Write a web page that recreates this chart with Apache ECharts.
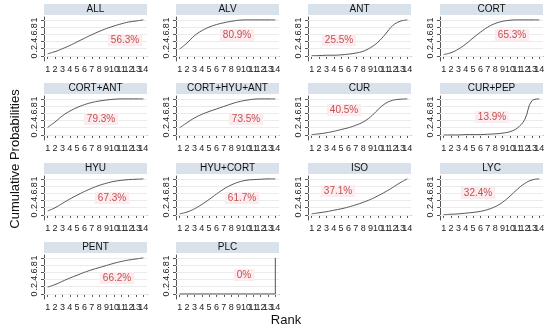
<!DOCTYPE html>
<html>
<head>
<meta charset="utf-8">
<script src="https://cdn.jsdelivr.net/npm/echarts@6/dist/echarts.min.js"></script>
<style>
html,body{margin:0;padding:0;background:#fff;}
#chart{width:550px;height:329px;}
</style>
</head>
<body>
<div id="chart"></div>
<script>
// ---------- data ----------
const panels = ['ALL','ALV','ANT','CORT','CORT+ANT','CORT+HYU+ANT','CUR','CUR+PEP','HYU','HYU+CORT','ISO','LYC','PENT','PLC'];
const ranks = ['1','2','3','4','5','6','7','8','9','10','11','12','13','14'];
const sucraLabels = ['56.3%','80.9%','25.5%','65.3%','79.3%','73.5%','40.5%','13.9%','67.3%','61.7%','37.1%','32.4%','66.2%','0%'];
const yTickValues = [0,0.2,0.4,0.6,0.8,1];
const yTickLabels = ['0','.2','.4','.6','.8','1'];

const cumALL   = [0.06,0.12,0.20,0.29,0.39,0.49,0.59,0.68,0.76,0.83,0.89,0.94,0.97,1];
const cumALV   = [0.19,0.36,0.56,0.70,0.80,0.87,0.92,0.96,0.99,1,1,1,1,1];
const cumANT   = [0.01,0.01,0.02,0.02,0.03,0.05,0.08,0.13,0.23,0.38,0.60,0.84,0.96,1];
const cumCORT  = [0.04,0.09,0.19,0.33,0.50,0.66,0.80,0.90,0.96,0.99,1,1,1,1];
const cumCORTANT = [0.21,0.36,0.53,0.66,0.76,0.84,0.90,0.94,0.97,0.99,1,1,1,1];
const cumCORTHYUANT = [0.20,0.34,0.47,0.57,0.65,0.72,0.79,0.86,0.92,0.96,0.99,1,1,1];
const cumCUR   = [0.01,0.03,0.06,0.10,0.15,0.20,0.27,0.36,0.50,0.70,0.87,0.96,0.99,1];
const cumCURPEP = [0,0,0,0.01,0.01,0.01,0.02,0.03,0.05,0.09,0.19,0.42,0.95,1];
const cumHYU   = [0.11,0.20,0.32,0.44,0.55,0.65,0.74,0.82,0.88,0.93,0.96,0.98,0.99,1];
const cumHYUCORT = [0.03,0.08,0.17,0.29,0.43,0.58,0.72,0.83,0.91,0.96,0.98,0.99,1,1];
const cumISO   = [0.03,0.06,0.09,0.13,0.17,0.22,0.28,0.35,0.43,0.53,0.64,0.76,0.89,1];
const cumLYC   = [0.01,0.02,0.03,0.05,0.07,0.10,0.15,0.23,0.35,0.52,0.71,0.87,0.97,1];
const cumPENT  = [0.19,0.26,0.35,0.44,0.52,0.60,0.67,0.73,0.79,0.85,0.90,0.94,0.97,1];
const cumPLC   = [0,0,0,0,0,0,0,0,0,0,0,0,0,1];

const curves = [cumALL,cumALV,cumANT,cumCORT,cumCORTANT,cumCORTHYUANT,cumCUR,cumCURPEP,cumHYU,cumHYUCORT,cumISO,cumLYC,cumPENT,cumPLC];

// ---------- layout (style) ----------
const FONT = '"Liberation Sans", Arial, sans-serif';
const colLeft = [44,176,308,440];
const rowTop = [17,96,176,255];
const gridW = 103, gridH = 44;
// label centre offsets within each grid, pixels
const labelOffset = [[81,23],[61,18],[31,23],[72,18],[57,23],[70,23],[36,14],[52,21],[68,22],[66,22],[30,15],[38,17],[73,23],[68,20]];

const grids=[], xAxes=[], yAxes=[], series=[], graphics=[];
panels.forEach((name,i)=>{
  const c = i%4, r = Math.floor(i/4);
  const L = colLeft[c], T = rowTop[r];
  grids.push({left:L, top:T, width:gridW, height:gridH, containLabel:false});
  xAxes.push({
    type:'category', gridIndex:i, data:ranks, boundaryGap:true,
    axisLine:{show:true, lineStyle:{color:'#555', width:1}},
    axisTick:{show:true, alignWithLabel:true, length:3, lineStyle:{color:'#555'}},
    axisLabel:{interval:0, fontSize:9, margin:4, color:'#222', fontFamily:FONT},
    splitLine:{show:false}
  });
  yAxes.push({
    type:'value', gridIndex:i, min:-0.14, max:1.08,
    axisLine:{show:true, lineStyle:{color:'#555', width:1}},
    axisTick:{show:true, length:3, customValues:yTickValues, lineStyle:{color:'#555'}},
    axisLabel:{show:true, customValues:yTickValues, rotate:90, fontSize:9, margin:5, color:'#222', fontFamily:FONT,
      formatter:(v)=>{const k=yTickValues.findIndex(t=>Math.abs(t-v)<1e-6); return k>=0?yTickLabels[k]:'';}},
    splitLine:{show:false}
  });
  series.push({
    type:'line', xAxisIndex:i, yAxisIndex:i, data:curves[i],
    smooth: name==='PLC'?false:0.4, step: name==='PLC'?'end':false,
    symbol:'none', lineStyle:{color:'#555', width:1}, z:3,
    markLine:{silent:true, symbol:'none', label:{show:false}, animation:false, z:1,
      lineStyle:{color:'#ebebeb', type:'solid', width:1},
      data: yTickValues.map(v=>({yAxis:v}))}
  });
  // header strip
  graphics.push({type:'rect', shape:{x:L, y:T-13, width:gridW, height:11}, style:{fill:'#d9e2ea'}, silent:true});
  graphics.push({type:'text', x:L+gridW/2, y:T-7.5, silent:true,
    style:{text:name, fill:'#111', font:'10px '+FONT, align:'center', verticalAlign:'middle'}});
  // percentage label
  graphics.push({type:'text', x:L+labelOffset[i][0], y:T+labelOffset[i][1], silent:true, z:10,
    style:{text:sucraLabels[i], fill:'#c0504d', font:'10px '+FONT, align:'center', verticalAlign:'middle',
      backgroundColor:'#fcecef', padding:[1,3]}});
});

graphics.push({type:'text', x:15, y:159, rotation:Math.PI/2, silent:true,
  style:{text:'Cumulative Probabilities', fill:'#111', font:'13px '+FONT, align:'center', verticalAlign:'middle'}});
graphics.push({type:'text', x:286, y:320, silent:true,
  style:{text:'Rank', fill:'#111', font:'13px '+FONT, align:'center', verticalAlign:'middle'}});

const chart = echarts.init(document.getElementById('chart'), null, {renderer:'canvas'});
chart.setOption({
  animation:false,
  backgroundColor:'#fff',
  grid:grids, xAxis:xAxes, yAxis:yAxes, series:series,
  graphic:graphics
});
</script>
</body>
</html>
